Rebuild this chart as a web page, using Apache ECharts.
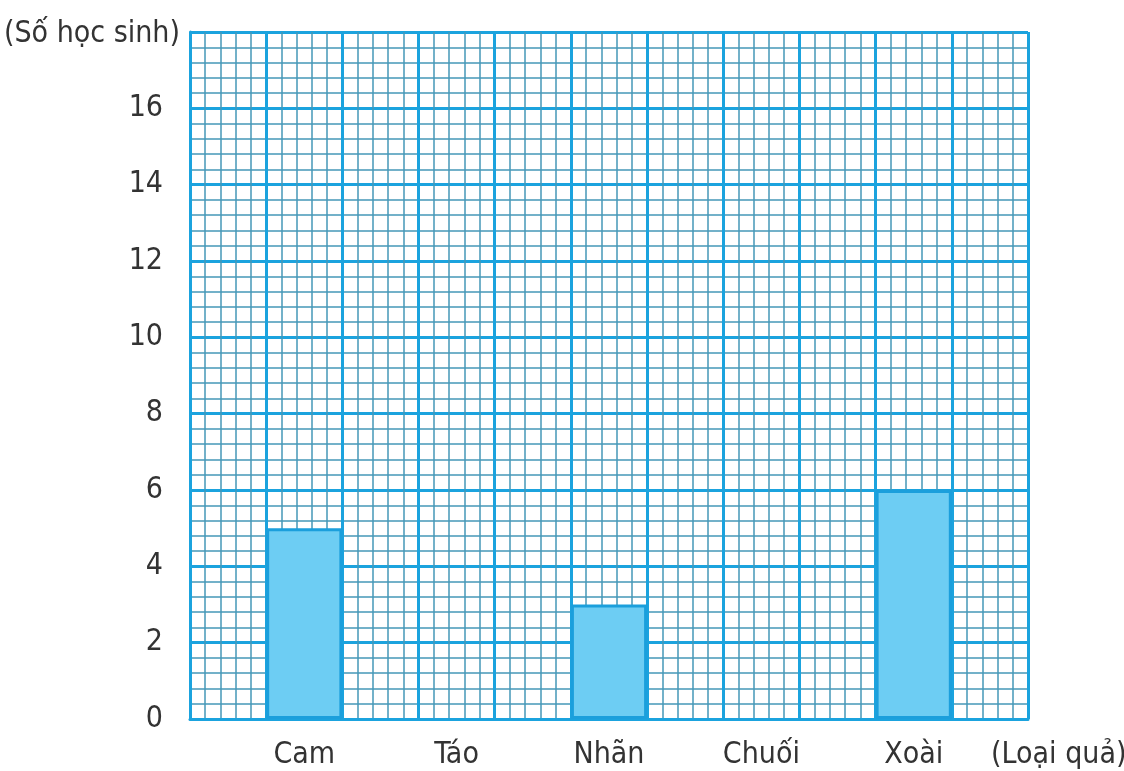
<!DOCTYPE html>
<html>
<head>
<meta charset="utf-8">
<script src="https://cdn.jsdelivr.net/npm/echarts@6/dist/echarts.min.js"></script>
<style>
html,body{margin:0;padding:0;background:#fff;}
#chart{width:1124px;height:771px;}
</style>
</head>
<body>
<div id="chart"></div>
<script>
// Data
var categories = ['Cam', 'Táo', 'Nhãn', 'Chuối', 'Xoài'];
var values = [5, null, 3, null, 6];
var yTicks = [0, 2, 4, 6, 8, 10, 12, 14, 16];
var yAxisName = '(Số học sinh)';
var xAxisName = '(Loại quả)';

// Each category sits on every other grid column (11 columns total)
var slotCount = 11;
var slots = [], slotValues = [];
for (var i = 0; i < slotCount; i++) { slots.push(''); slotValues.push(null); }
categories.forEach(function (c, k) { slots[2 * k + 1] = c; slotValues[2 * k + 1] = values[k]; });

var FONT = "'Liberation Sans Narrow', 'DejaVu Sans Condensed', 'Liberation Sans', Arial, sans-serif";
var MAJOR = '#1ba3de';
var MINOR = '#4598b8';
var TEXT = '#333333';

var chart = echarts.init(document.getElementById('chart'));
chart.setOption({
  animation: false,
  backgroundColor: '#ffffff',
  grid: { left: 190, top: 32, width: 838, height: 687, containLabel: false },
  xAxis: [
    {
      type: 'category',
      data: slots,
      boundaryGap: true,
      axisLine: { show: true, lineStyle: { color: MAJOR, width: 3 } },
      axisTick: { show: false },
      splitLine: { show: false },
      axisLabel: { interval: 0, fontSize: 30, fontFamily: FONT, color: TEXT, margin: 21 }
    },
    {
      type: 'value',
      min: 0, max: slotCount, interval: 1,
      position: 'top',
      axisLine: { show: false },
      axisTick: { show: false },
      axisLabel: { show: false },
      minorTick: { show: false, splitNumber: 5 },
      splitLine: { show: true, lineStyle: { color: MAJOR, width: 3 } },
      minorSplitLine: { show: true, lineStyle: { color: MINOR, width: 1.5 } }
    }
  ],
  yAxis: {
    type: 'value',
    min: 0, max: 18, interval: 2,
    axisLine: { show: true, lineStyle: { color: MAJOR, width: 3 } },
    axisTick: { show: false },
    axisLabel: {
      fontSize: 30, fontFamily: FONT, color: TEXT, margin: 27,
      formatter: function (v) { return yTicks.indexOf(v) >= 0 ? String(v) : ''; }
    },
    minorTick: { show: false, splitNumber: 5 },
    splitLine: { show: true, lineStyle: { color: MAJOR, width: 3 } },
    minorSplitLine: { show: true, lineStyle: { color: MINOR, width: 1.5 } }
  },
  graphic: [
    { type: 'text', right: 944, top: 19, style: { text: yAxisName, font: '30px ' + FONT, fill: TEXT } },
    { type: 'text', left: 991, top: 740, style: { text: xAxisName, font: '30px ' + FONT, fill: TEXT } }
  ],
  series: [{
    type: 'bar',
    xAxisIndex: 0,
    data: slotValues,
    barWidth: '100%',
    itemStyle: { color: '#6dcdf3', borderColor: '#1b9fdc', borderWidth: 3 },
    z: 3
  }]
});
</script>
</body>
</html>
